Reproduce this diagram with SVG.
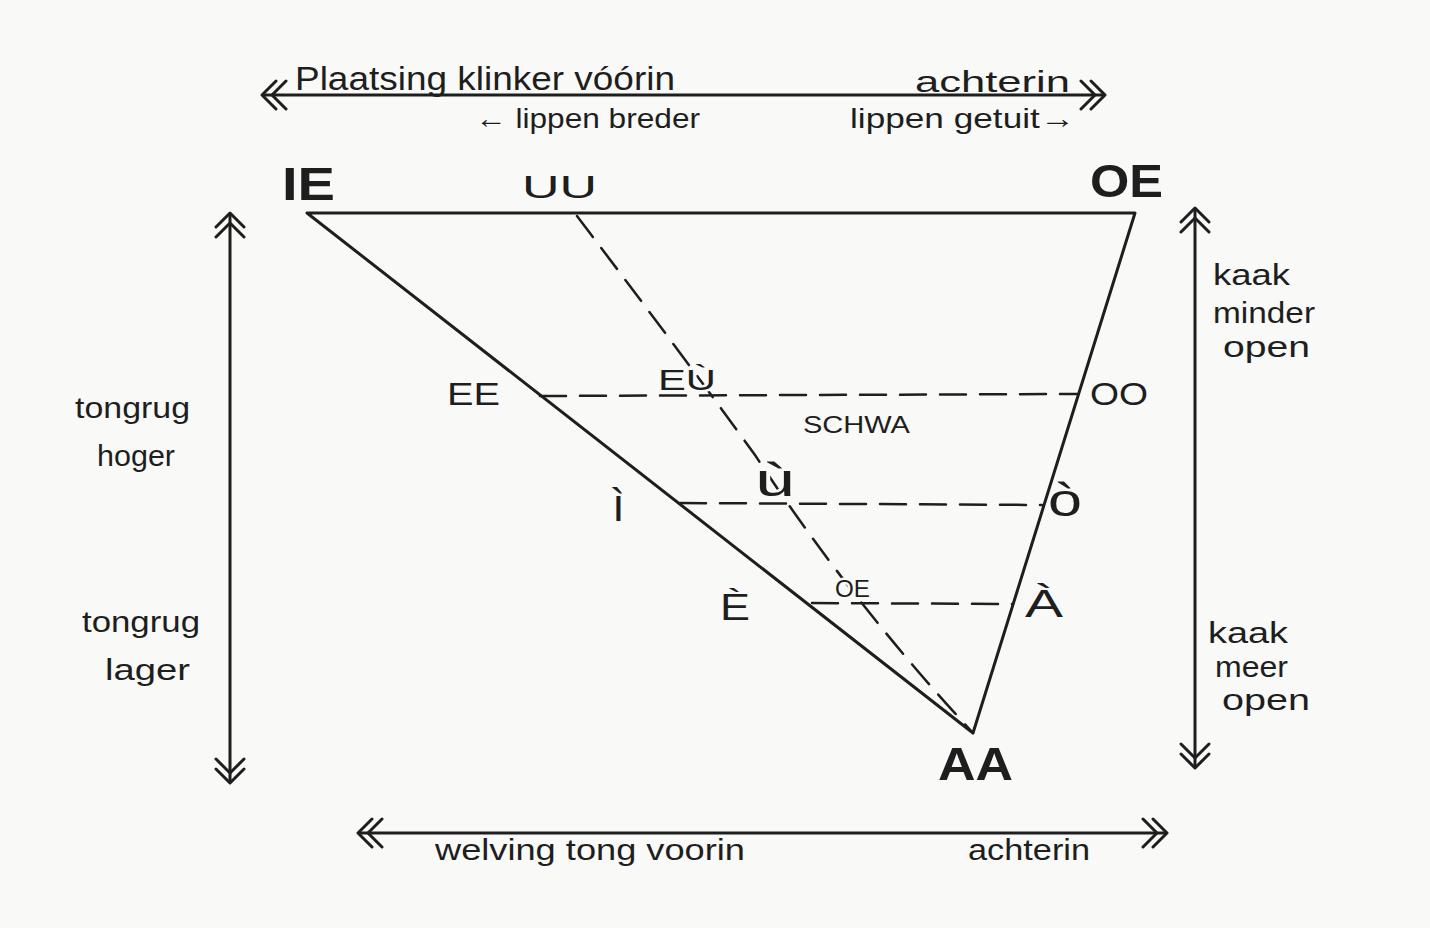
<svg xmlns="http://www.w3.org/2000/svg" width="1430" height="928" viewBox="0 0 1430 928">
  <style>
    text { font-family: "Liberation Sans", Arial, sans-serif; fill: #1e1e1e; }
    .hand { font-size: 30px; }
    .big { font-size: 46px; font-weight: bold; }
    .vowel { font-size: 32px; }
    .halo { stroke: #f9f9f7; stroke-width: 5; paint-order: stroke; stroke-linejoin: round; }
    .solid { stroke: #1e1e1e; stroke-width: 3; fill: none; stroke-linecap: round; stroke-linejoin: round; }
    .dash { stroke: #1e1e1e; stroke-width: 2.5; fill: none; stroke-dasharray: 26 14; stroke-linecap: round; }
    .arrow { stroke: #1e1e1e; stroke-width: 3; fill: none; marker-start: url(#dbl); marker-end: url(#dbl); }
  </style>
  <defs>
    <marker id="dbl" viewBox="-2 -16 30 32" markerWidth="30" markerHeight="32" refX="24" refY="0" orient="auto-start-reverse" markerUnits="userSpaceOnUse">
      <path d="M0,-14 L14,0 L0,14 M10,-14 L24,0 L10,14" fill="none" stroke="#1e1e1e" stroke-width="3" stroke-linecap="round" stroke-linejoin="round"/>
    </marker>
  </defs>
  <rect width="1430" height="928" fill="#f9f9f7"/>

  <g id="connectors">
    <line class="arrow" x1="262" y1="95" x2="1105" y2="95"/>
    <line class="arrow" x1="230" y1="213" x2="230" y2="783"/>
    <line class="arrow" x1="1195" y1="208" x2="1195" y2="768"/>
    <line class="arrow" x1="358" y1="833" x2="1167" y2="833"/>
    <path class="solid" d="M307,213 L1135,213 L973,733 Z"/>
    <path class="dash" d="M577,216 Q690,365 755,455 Q850,600 973,733"/>
    <line class="dash" x1="540" y1="396" x2="1078" y2="394"/>
    <line class="dash" x1="680" y1="503" x2="1042" y2="505"/>
    <line class="dash" x1="812" y1="603" x2="1012" y2="604"/>
  </g>

  <g id="top-labels">
    <text class="hand" x="295" y="90" style="font-size:34px" textLength="380" lengthAdjust="spacingAndGlyphs">Plaatsing klinker vóórin</text>
    <text class="hand" x="915" y="92" textLength="155" lengthAdjust="spacingAndGlyphs">achterin</text>
    <text class="hand" x="475" y="128" style="font-size:28px" textLength="225" lengthAdjust="spacingAndGlyphs">← lippen breder</text>
    <text class="hand" x="850" y="128" style="font-size:28px" textLength="225" lengthAdjust="spacingAndGlyphs">lippen getuit→</text>
  </g>

  <g id="left-labels">
    <text class="hand" x="75" y="418" textLength="115" lengthAdjust="spacingAndGlyphs">tongrug</text>
    <text class="hand" x="97" y="466" textLength="78" lengthAdjust="spacingAndGlyphs">hoger</text>
    <text class="hand" x="82" y="632" textLength="118" lengthAdjust="spacingAndGlyphs">tongrug</text>
    <text class="hand" x="105" y="680" textLength="85" lengthAdjust="spacingAndGlyphs">lager</text>
  </g>

  <g id="right-labels">
    <text class="hand" x="1213" y="285" textLength="77" lengthAdjust="spacingAndGlyphs">kaak</text>
    <text class="hand" x="1213" y="323" textLength="102" lengthAdjust="spacingAndGlyphs">minder</text>
    <text class="hand" x="1223" y="357" textLength="87" lengthAdjust="spacingAndGlyphs">open</text>
    <text class="hand" x="1208" y="643" textLength="80" lengthAdjust="spacingAndGlyphs">kaak</text>
    <text class="hand" x="1215" y="677" textLength="73" lengthAdjust="spacingAndGlyphs">meer</text>
    <text class="hand" x="1222" y="710" textLength="88" lengthAdjust="spacingAndGlyphs">open</text>
  </g>

  <g id="bottom-labels">
    <text class="hand" x="435" y="860" textLength="310" lengthAdjust="spacingAndGlyphs">welving tong voorin</text>
    <text class="hand" x="968" y="860" textLength="122" lengthAdjust="spacingAndGlyphs">achterin</text>
  </g>

  <g id="node-IE"><text class="big" x="282" y="200" textLength="53" lengthAdjust="spacingAndGlyphs">IE</text></g>
  <g id="node-UU"><text class="vowel" x="522" y="198" textLength="75" lengthAdjust="spacingAndGlyphs">UU</text></g>
  <g id="node-OE"><text class="big" x="1090" y="197" textLength="73" lengthAdjust="spacingAndGlyphs">OE</text></g>
  <g id="node-EE"><text class="vowel" x="447" y="405" textLength="53" lengthAdjust="spacingAndGlyphs">EE</text></g>
  <g id="node-EU"><text class="vowel halo" x="658" y="390" style="font-size:30px" textLength="58" lengthAdjust="spacingAndGlyphs">EÙ</text></g>
  <g id="node-SCHWA"><text x="803" y="433" style="font-size:24px" textLength="107" lengthAdjust="spacingAndGlyphs">SCHWA</text></g>
  <g id="node-OO"><text class="vowel" x="1090" y="405" textLength="58" lengthAdjust="spacingAndGlyphs">OO</text></g>
  <g id="node-i"><text class="vowel" x="612" y="521" style="font-size:46px">ì</text></g>
  <g id="node-u"><text class="vowel halo" x="755" y="496" style="font-size:46px" textLength="40" lengthAdjust="spacingAndGlyphs">ù</text></g>
  <g id="node-o"><text class="vowel" x="1048" y="516" style="font-size:46px" textLength="34" lengthAdjust="spacingAndGlyphs">ò</text></g>
  <g id="node-E"><text class="vowel" x="720" y="620" style="font-size:36px" textLength="30" lengthAdjust="spacingAndGlyphs">È</text></g>
  <g id="node-OE-small"><text class="halo" x="835" y="597" style="font-size:24px" textLength="35" lengthAdjust="spacingAndGlyphs">OE</text></g>
  <g id="node-A"><text class="vowel" x="1025" y="617" style="font-size:38px" textLength="38" lengthAdjust="spacingAndGlyphs">À</text></g>
  <g id="node-AA"><text class="big" x="938" y="780" textLength="75" lengthAdjust="spacingAndGlyphs">AA</text></g>
</svg>
